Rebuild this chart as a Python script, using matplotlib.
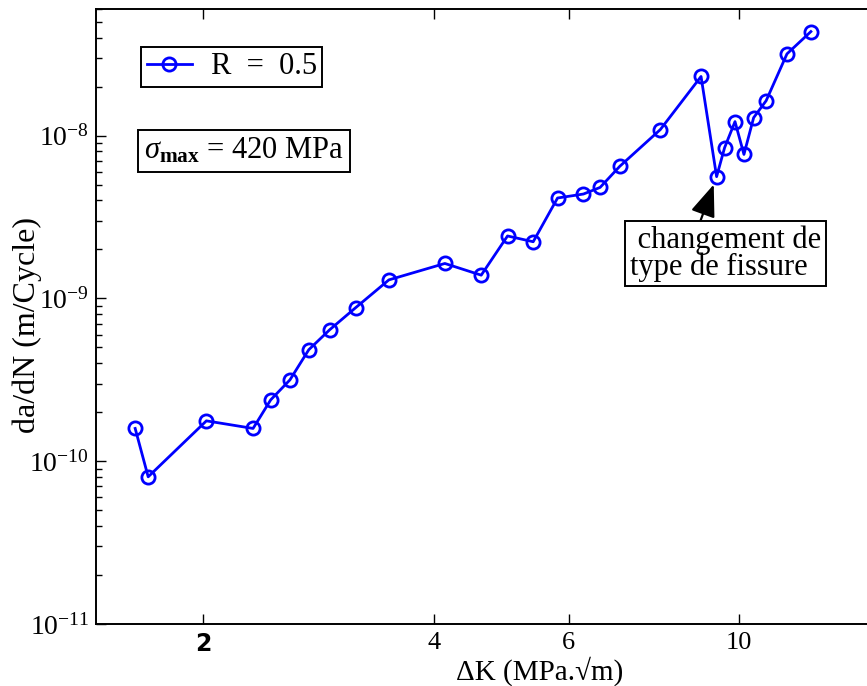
import numpy as np
import matplotlib
matplotlib.use('Agg')
import matplotlib.pyplot as plt
from matplotlib.ticker import FixedLocator, NullLocator, LogLocator

plt.rcParams['font.family'] = ['Liberation Serif', 'DejaVu Serif']
plt.rcParams['mathtext.fontset'] = 'custom'
plt.rcParams['mathtext.rm'] = 'Liberation Serif'
plt.rcParams['mathtext.it'] = 'Liberation Serif:italic'
plt.rcParams['mathtext.bf'] = 'Liberation Serif:bold'

# delta K (MPa.sqrt(m)) and crack growth rate da/dN (m/cycle), R = 0.5
dK = [1.631, 1.696, 2.020, 2.324, 2.450, 2.596, 2.747, 2.925, 3.162, 3.494,
      4.134, 4.611, 4.990, 5.390, 5.799, 6.268, 6.590, 6.990, 7.896, 8.923,
      9.350, 9.577, 9.881, 10.15, 10.45, 10.85, 11.55, 12.41]
dadN = [1.59e-10, 8.02e-11, 1.77e-10, 1.59e-10, 2.38e-10, 3.16e-10, 4.84e-10,
        6.42e-10, 8.77e-10, 1.30e-9, 1.64e-9, 1.39e-9, 2.42e-9, 2.23e-9,
        4.14e-9, 4.38e-9, 4.81e-9, 6.48e-9, 1.09e-8, 2.31e-8, 5.60e-9,
        8.44e-9, 1.22e-8, 7.67e-9, 1.29e-8, 1.64e-8, 3.18e-8, 4.36e-8]
xticks = [2, 4, 6, 10]
yticks = [1e-11, 1e-10, 1e-9, 1e-8]
ytick_labels = [r'$\mathregular{10^{-11}}$', r'$\mathregular{10^{-10}}$',
                r'$\mathregular{10^{-9}}$', r'$\mathregular{10^{-8}}$']
i_change = 20  # point where the crack type changes

W, H = 867, 686
fig = plt.figure(figsize=(W / 100, H / 100), dpi=100)
ax = fig.add_axes([96 / W, 1 - 624 / H, (874 - 96) / W, (624 - 9) / H])

ax.plot(dK, dadN, '-o', color='blue', lw=2.0, ms=9.5, mfc='none', mew=2.0,
        label='R\u2002=\u20020.5')
ax.set_xscale('log')
ax.set_yscale('log')
ax.set_xlim(1.45, 15)
ax.set_ylim(1e-11, 6e-8)

ax.xaxis.set_major_locator(FixedLocator(xticks))
ax.xaxis.set_minor_locator(NullLocator())
ax.set_xticklabels([str(t) for t in xticks])
ax.yaxis.set_major_locator(FixedLocator(yticks))
ax.yaxis.set_minor_locator(LogLocator(base=10, subs=np.arange(2, 10)))
ax.set_yticklabels(ytick_labels)
ax.yaxis.set_minor_formatter(plt.NullFormatter())

ax.tick_params(which='both', direction='in', top=True, right=False,
               width=1.0, labelsize=20)
ax.tick_params(which='major', length=7)
ax.tick_params(which='minor', length=4)
ax.tick_params(axis='x', pad=6, labelsize=19)
ax.tick_params(axis='y', pad=5)
lab2 = ax.get_xticklabels()[0]
lab2.set_fontfamily('DejaVu Sans')
lab2.set_fontweight('bold')
lab2.set_fontsize(17)
for s in ax.spines.values():
    s.set_linewidth(1.4)

ax.set_xlabel('\u0394K (MPa.\u221am)', fontsize=21)
ax.xaxis.set_label_coords(0.570, -0.053)
ax.set_ylabel('da/dN (m/Cycle)', fontsize=23, va='center')
ax.yaxis.set_label_coords(-0.088, 0.486)

leg = ax.legend(loc='upper left', bbox_to_anchor=(141 / W, 1 - 47 / H),
                bbox_transform=fig.transFigure, fontsize=22, fancybox=False,
                framealpha=1, edgecolor='black', handlelength=1.5,
                borderpad=0.18, handletextpad=0.6, borderaxespad=0)
leg.get_frame().set_linewidth(1.4)

fig.text(144 / W, 1 - 151 / H, r'$\sigma_{\mathbf{max}}$ = 420 MPa',
         fontsize=22, va='center', ha='left',
         bbox=dict(boxstyle='square,pad=0.2', fc='white', ec='black', lw=1.4))

ax.annotate(' changement de\ntype de fissure',
            xy=(dK[i_change], dadN[i_change]),
            xytext=((630 - 96) / 778, (624 - 253.5) / 615),
            textcoords='axes fraction', fontsize=22, ha='left', va='center',
            linespacing=0.88,
            bbox=dict(boxstyle='square,pad=0.15', fc='white', ec='black', lw=1.4),
            arrowprops=dict(arrowstyle='-|>,head_length=0.9,head_width=0.35',
                            color='black', lw=1.6, relpos=(0.36, 1.0),
                            shrinkA=0, shrinkB=6))

fig.savefig('out.png', dpi=100)
